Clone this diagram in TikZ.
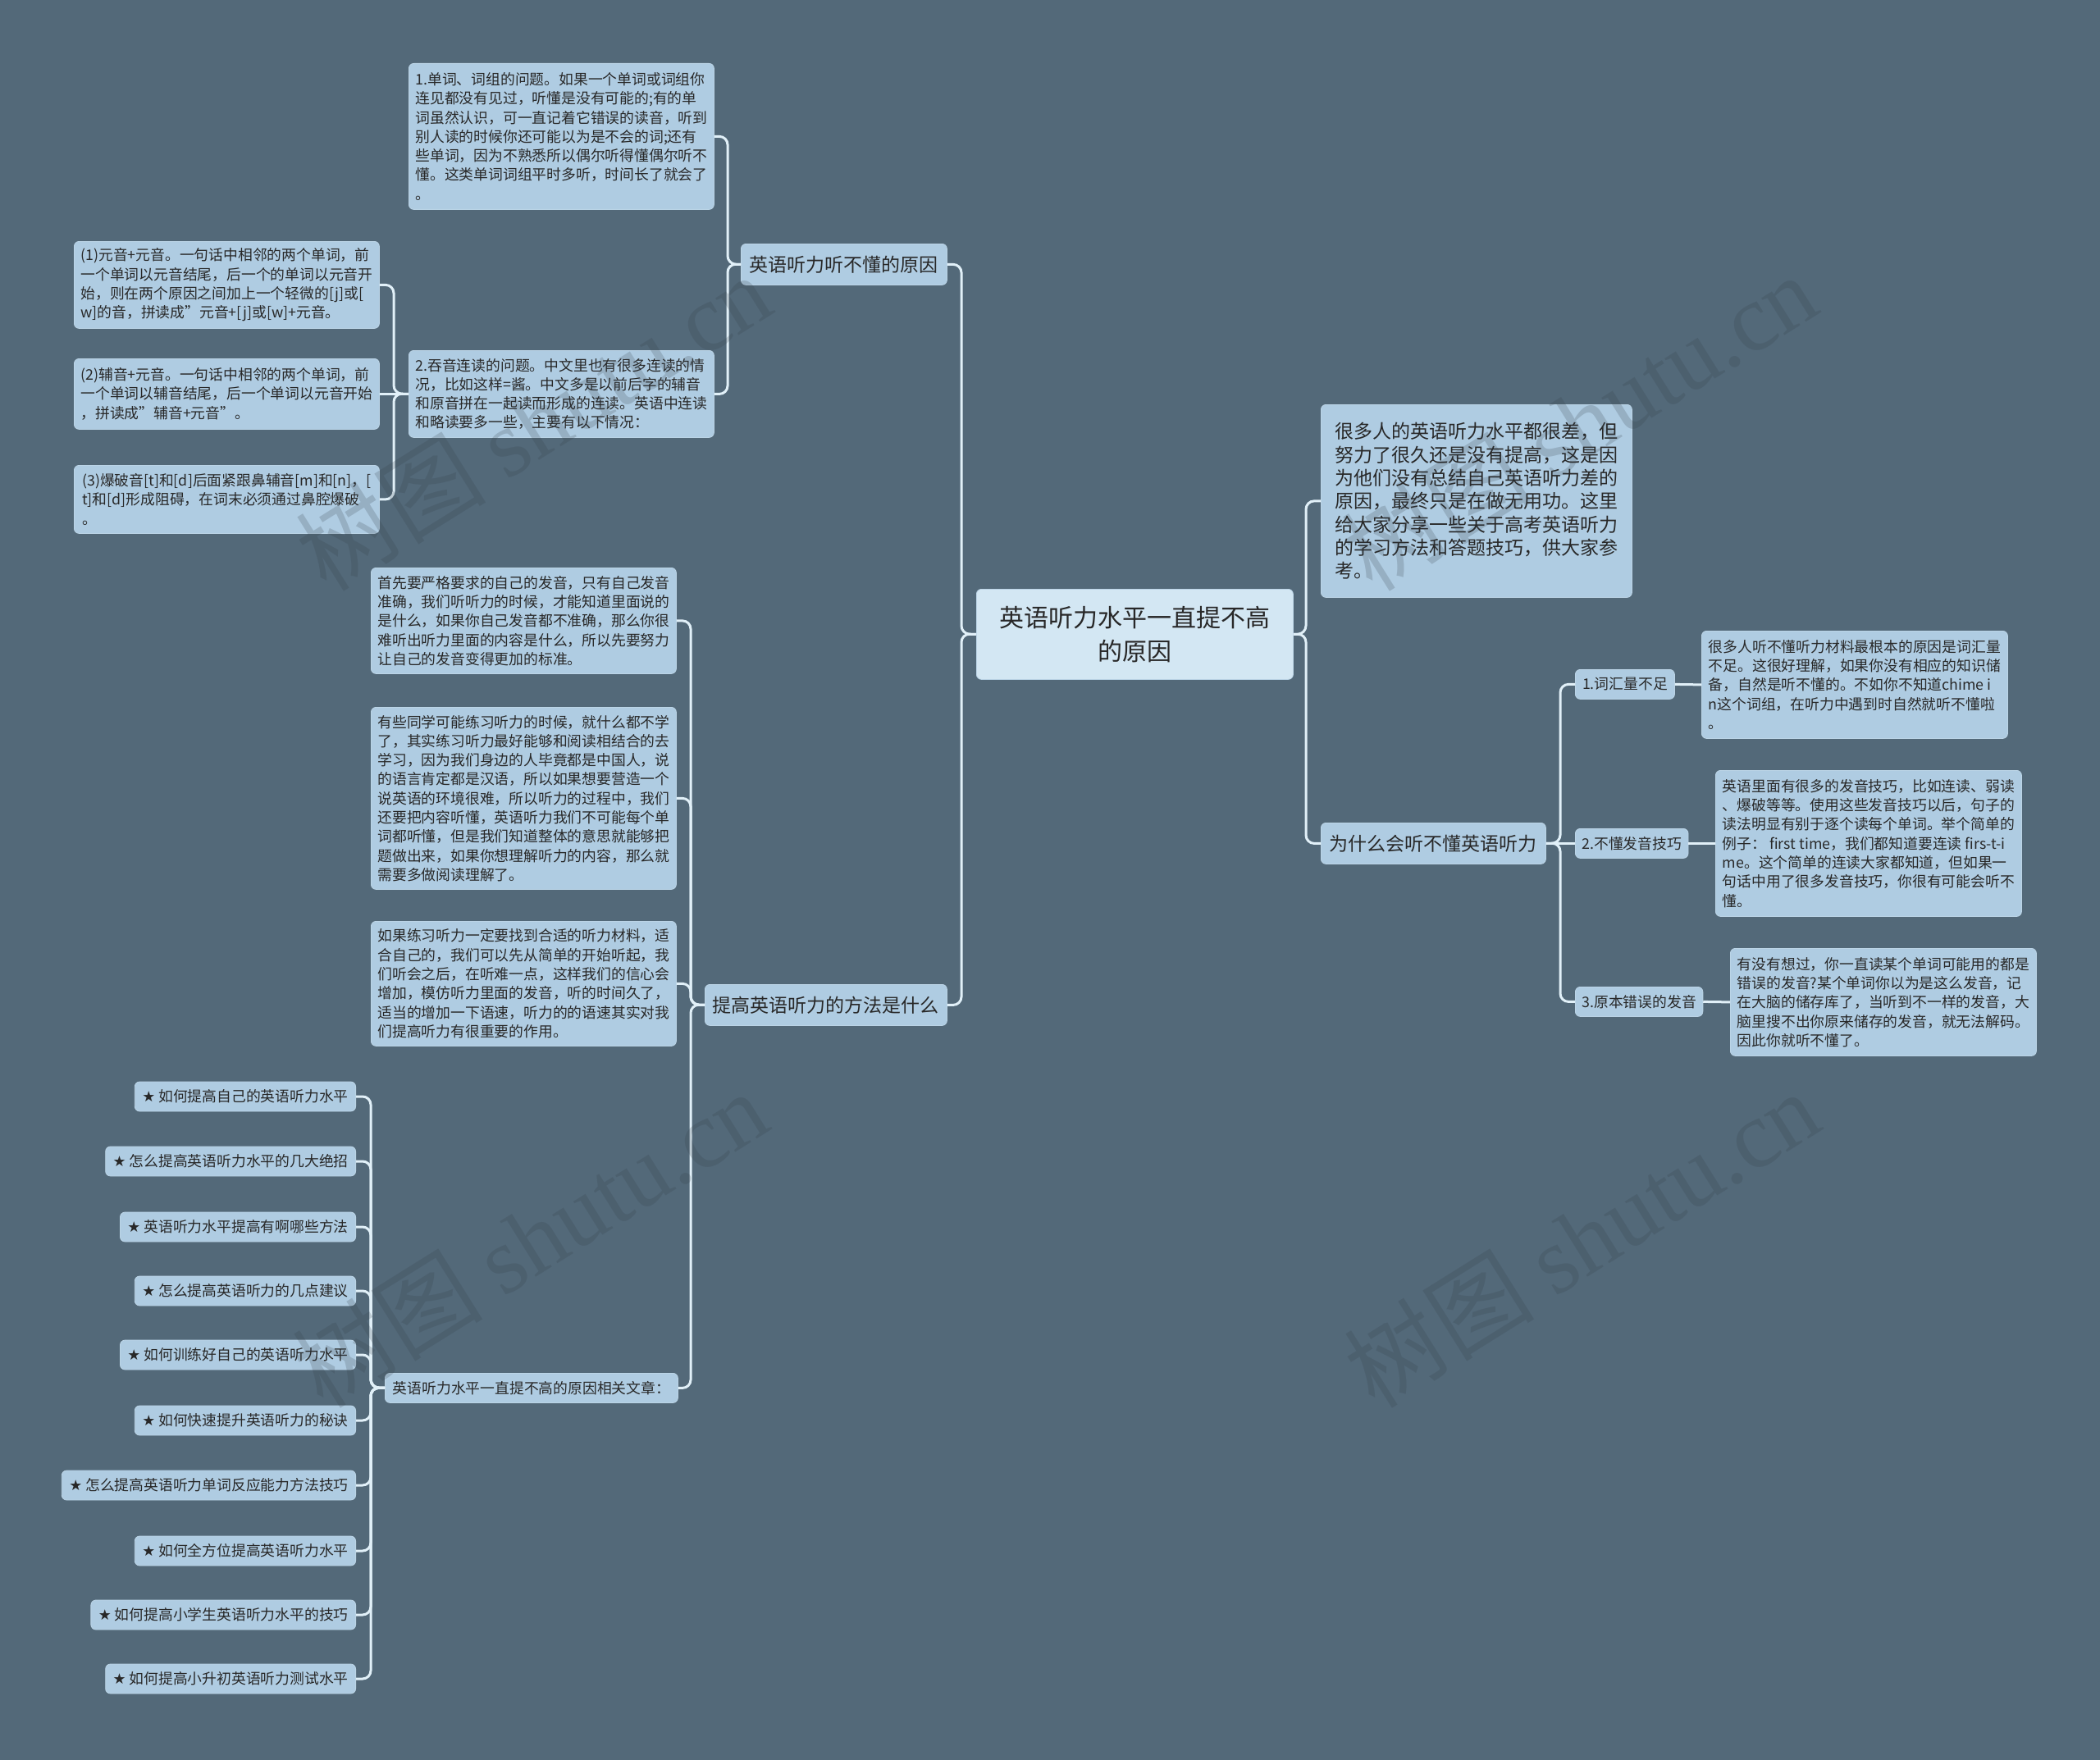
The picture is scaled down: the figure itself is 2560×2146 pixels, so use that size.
\documentclass[tikz,border=0pt]{standalone}
\usepackage{fontspec}
\setmainfont{Noto Sans CJK SC}
\newfontfamily\symf{DejaVu Sans}
\newfontfamily\wmfont{Liberation Serif}
\definecolor{bgc}{RGB}{83,105,121}
\definecolor{boxfill}{RGB}{175,204,226}
\definecolor{rootfill}{RGB}{211,231,243}
\definecolor{txt}{RGB}{40,40,40}
\definecolor{linec}{RGB}{225,240,248}
\definecolor{wmc}{RGB}{50,60,70}
\begin{document}
\begin{tikzpicture}[x=1pt,y=-1pt,
  box/.style={draw=boxfill!85!white, line width=0.8pt, fill=boxfill, rounded corners=6pt,
    text=txt, anchor=north west, inner xsep=8pt, inner ysep=5pt, align=left},
  small/.style={font=\fontsize{17.8}{23.3}\selectfont},
  mid/.style={font=\fontsize{23}{28.3}\selectfont},
  conn/.style={draw=linec, line width=3pt, rounded corners=10pt},
  item/.style={box, small, anchor=east, minimum height=36pt, inner xsep=9pt},
  wm/.style={text=wmc, opacity=0.2, rotate=32, font=\fontsize{116}{126}\selectfont}
]
\fill[bgc] (0,0) rectangle (2560,2146);
\useasboundingbox (0,0) rectangle (2560,2146);

% root
\node[box, fill=rootfill, align=center, minimum width=386pt, minimum height=110pt,
  font=\fontsize{30}{41.7}\selectfont] (root) at (1190,718) {英语听力水平一直提不高\\的原因};

% right side
\node[box, mid, minimum width=379pt, minimum height=235pt] (intro) at (1610,493)
{很多人的英语听力水平都很差，但\\努力了很久还是没有提高，这是因\\为他们没有总结自己英语听力差的\\原因，最终只是在做无用功。这里\\给大家分享一些关于高考英语听力\\的学习方法和答题技巧，供大家参\\考。};
\node[box, mid, minimum width=274pt, minimum height=50pt] (why) at (1610,1003) {为什么会听不懂英语听力};

\node[box, small, minimum width=121pt, minimum height=36pt] (r1l) at (1920,816) {1.词汇量不足};
\node[box, small, minimum width=373pt, minimum height=131pt] (r1t) at (2074,769)
{很多人听不懂听力材料最根本的原因是词汇量\\不足。这很好理解，如果你没有相应的知识储\\备，自然是听不懂的。不如你不知道chime i\\n这个词组，在听力中遇到时自然就听不懂啦\\。};
\node[box, small, minimum width=137pt, minimum height=36pt] (r2l) at (1920,1010) {2.不懂发音技巧};
\node[box, small, minimum width=373pt, minimum height=178pt] (r2t) at (2091,939)
{英语里面有很多的发音技巧，比如连读、弱读\\、爆破等等。使用这些发音技巧以后，句子的\\读法明显有别于逐个读每个单词。举个简单的\\例子： first time，我们都知道要连读 firs-t-i\\me。这个简单的连读大家都知道，但如果一\\句话中用了很多发音技巧，你很有可能会听不\\懂。};
\node[box, small, minimum width=155pt, minimum height=36pt] (r3l) at (1920,1203) {3.原本错误的发音};
\node[box, small, minimum width=373pt, minimum height=131pt] (r3t) at (2109,1156)
{有没有想过，你一直读某个单词可能用的都是\\错误的发音?某个单词你以为是这么发音，记\\在大脑的储存库了，当听到不一样的发音，大\\脑里搜不出你原来储存的发音，就无法解码。\\因此你就听不懂了。};

% left side level 1
\node[box, mid, minimum width=251pt, minimum height=50pt] (L1) at (903,297) {英语听力听不懂的原因};
\node[box, mid, minimum width=295pt, minimum height=50pt] (L2) at (859,1200) {提高英语听力的方法是什么};

% branch 1
\node[box, small, minimum width=372pt, minimum height=178pt] (t1) at (498,77)
{1.单词、词组的问题。如果一个单词或词组你\\连见都没有见过，听懂是没有可能的;有的单\\词虽然认识，可一直记着它错误的读音，听到\\别人读的时候你还可能以为是不会的词;还有\\些单词，因为不熟悉所以偶尔听得懂偶尔听不\\懂。这类单词词组平时多听，时间长了就会了\\。};
\node[box, small, minimum width=372pt, minimum height=106pt] (t2) at (498,427)
{2.吞音连读的问题。中文里也有很多连读的情\\况，比如这样=酱。中文多是以前后字的辅音\\和原音拼在一起读而形成的连读。英语中连读\\和略读要多一些，主要有以下情况：};
\node[box, small, minimum width=372pt, minimum height=106pt] (s1) at (90,294)
{(1)元音+元音。一句话中相邻的两个单词，前\\一个单词以元音结尾，后一个的单词以元音开\\始，则在两个原因之间加上一个轻微的[j]或[\\w]的音，拼读成"元音+[j]或[w]+元音。};
\node[box, small, minimum width=372pt, minimum height=86pt] (s2) at (90,437)
{(2)辅音+元音。一句话中相邻的两个单词，前\\一个单词以辅音结尾，后一个单词以元音开始\\，拼读成"辅音+元音"。};
\node[box, small, minimum width=372pt, minimum height=83pt] (s3) at (90,567)
{(3)爆破音[t]和[d]后面紧跟鼻辅音[m]和[n]，[\\t]和[d]形成阻碍，在词末必须通过鼻腔爆破\\。};

% branch 2
\node[box, small, minimum width=372pt, minimum height=129pt] (A) at (452,692)
{首先要严格要求的自己的发音，只有自己发音\\准确，我们听听力的时候，才能知道里面说的\\是什么，如果你自己发音都不准确，那么你很\\难听出听力里面的内容是什么，所以先要努力\\让自己的发音变得更加的标准。};
\node[box, small, minimum width=372pt, minimum height=222pt] (B) at (452,862)
{有些同学可能练习听力的时候，就什么都不学\\了，其实练习听力最好能够和阅读相结合的去\\学习，因为我们身边的人毕竟都是中国人，说\\的语言肯定都是汉语，所以如果想要营造一个\\说英语的环境很难，所以听力的过程中，我们\\还要把内容听懂，英语听力我们不可能每个单\\词都听懂，但是我们知道整体的意思就能够把\\题做出来，如果你想理解听力的内容，那么就\\需要多做阅读理解了。};
\node[box, small, minimum width=372pt, minimum height=152pt] (C) at (452,1123)
{如果练习听力一定要找到合适的听力材料，适\\合自己的，我们可以先从简单的开始听起，我\\们听会之后，在听难一点，这样我们的信心会\\增加，模仿听力里面的发音，听的时间久了，\\适当的增加一下语速，听力的的语速其实对我\\们提高听力有很重要的作用。};
\node[box, small, minimum width=357pt, minimum height=36pt] (D) at (469,1674) {英语听力水平一直提不高的原因相关文章：};

\node[item] (i1) at (434,1337) {{\symf ★} 如何提高自己的英语听力水平};
\node[item] (i2) at (434,1416) {{\symf ★} 怎么提高英语听力水平的几大绝招};
\node[item] (i3) at (434,1496) {{\symf ★} 英语听力水平提高有啊哪些方法};
\node[item] (i4) at (434,1574) {{\symf ★} 怎么提高英语听力的几点建议};
\node[item] (i5) at (434,1652) {{\symf ★} 如何训练好自己的英语听力水平};
\node[item] (i6) at (434,1732) {{\symf ★} 如何快速提升英语听力的秘诀};
\node[item] (i7) at (434,1811) {{\symf ★} 怎么提高英语听力单词反应能力方法技巧};
\node[item] (i8) at (434,1891) {{\symf ★} 如何全方位提高英语听力水平};
\node[item] (i9) at (434,1969) {{\symf ★} 如何提高小学生英语听力水平的技巧};
\node[item] (i10) at (434,2047) {{\symf ★} 如何提高小升初英语听力测试水平};

% spine coordinates
\coordinate (sp0) at (1172,773);
\coordinate (sp1) at (887,322);
\coordinate (sp2) at (480,480);
\coordinate (sp3) at (842,1225);
\coordinate (sp4) at (452,1692);
\coordinate (sp5) at (1592,773);
\coordinate (sp6) at (1902,1028);

% connectors
\draw[conn] (root.west) -- (sp0) |- (L1.east);
\draw[conn] (root.west) -- (sp0) |- (L2.east);
\draw[conn] (L1.west) -- (sp1) |- (t1.east);
\draw[conn] (L1.west) -- (sp1) |- (t2.east);
\draw[conn] (t2.west) -- (sp2) |- (s1.east);
\draw[conn] (t2.west) -- (s2.east);
\draw[conn] (t2.west) -- (sp2) |- (s3.east);
\draw[conn] (L2.west) -- (sp3) |- (A.east);
\draw[conn] (L2.west) -- (sp3) |- (B.east);
\draw[conn] (L2.west) -- (sp3) |- (C.east);
\draw[conn] (L2.west) -- (sp3) |- (D.east);
\foreach \i in {1,...,10} {\draw[conn] (D.west) -- (sp4) |- (i\i.east);}
\draw[conn] (root.east) -- (sp5) |- (intro.west);
\draw[conn] (root.east) -- (sp5) |- (why.west);
\draw[conn] (why.east) -- (sp6) |- (r1l.west);
\draw[conn] (why.east) -- (r2l.west);
\draw[conn] (why.east) -- (sp6) |- (r3l.west);
\draw[conn] (r1l.east) -- (r1t.west);
\draw[conn] (r2l.east) -- (r2t.west);
\draw[conn] (r3l.east) -- (r3t.west);

% watermarks
\node[wm] (w1) at (650,514) {树图 {\wmfont shutu.cn}};
\node[wm] (w2) at (1925,514) {树图 {\wmfont shutu.cn}};
\node[wm] (w3) at (646,1510) {树图 {\wmfont shutu.cn}};
\node[wm] (w4) at (1928,1510) {树图 {\wmfont shutu.cn}};
\end{tikzpicture}
\end{document}
